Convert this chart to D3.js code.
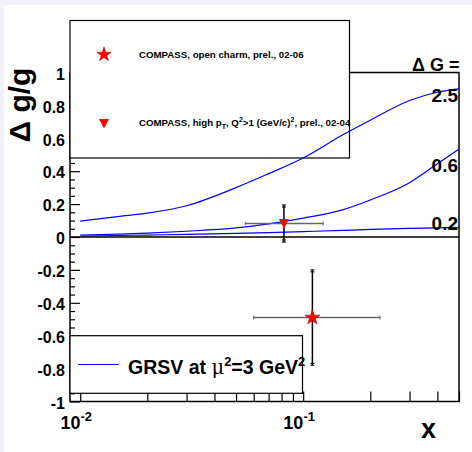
<!DOCTYPE html>
<html>
<head>
<meta charset="utf-8">
<script src="https://cdn.jsdelivr.net/npm/d3@7"></script>
<style>
  html, body { margin: 0; padding: 0; background: #f2f0f9; }
  svg { display: block; }
  text { font-family: "Liberation Sans", Arial, Helvetica, sans-serif; font-weight: bold; }
</style>
</head>
<body>
<div id="chart"></div>
<script>
// GRSV curves, x values and delta g / g for each Delta G
const curveX = [0.01, 0.015, 0.02, 0.03, 0.05, 0.07, 0.1, 0.15, 0.2, 0.3, 0.4, 0.5];
const grsv25 = [0.097, 0.125, 0.145, 0.19, 0.30, 0.385, 0.48, 0.62, 0.71, 0.83, 0.88, 0.90];
const grsv06 = [0.012, 0.018, 0.024, 0.035, 0.055, 0.08, 0.115, 0.165, 0.225, 0.33, 0.445, 0.535];
const grsv02 = [0.006, 0.009, 0.012, 0.016, 0.022, 0.027, 0.033, 0.040, 0.046, 0.052, 0.056, 0.058];
const curveLabels = ["2.5", "0.6", "0.2"];

// COMPASS points: x, x range, value, stat error, total error
const charm = { x: 0.11, xLo: 0.060, xHi: 0.221, y: -0.49, stat: 0.278, tot: 0.29 };
const highPt = { x: 0.082, xLo: 0.055, xHi: 0.123, y: 0.082, stat: 0.10, tot: 0.113 };

const yTicks = [-1, -0.8, -0.6, -0.4, -0.2, 0, 0.2, 0.4, 0.6, 0.8, 1];
const xTicks = [0.01, 0.02, 0.03, 0.04, 0.05, 0.06, 0.07, 0.08, 0.09, 0.1, 0.2, 0.3, 0.4, 0.5];
const xLabels = [{ v: 0.01, exp: "-2" }, { v: 0.1, exp: "-1" }];

const width = 472;
const height = 452;
const margin = { top: 72.5, bottom: 50.5, left: 70, right: 13 };

const svg = d3.select("#chart").append("svg").attr("width", width).attr("height", height);

svg.append("rect").attr("x", 4).attr("y", 5).attr("width", width - 4).attr("height", height - 5).attr("fill", "#ffffff");

const xScale = d3.scaleLog().domain([0.009, 0.5]).range([margin.left, width - margin.right]);
const yScale = d3.scaleLinear().domain([-1, 1]).range([height - margin.bottom, margin.top]);

// Axes

const minorY = d3.range(-1, 1.001, 0.05).map((d) => +d.toFixed(2)).filter((d) => !yTicks.includes(d));

svg.append("g")
  .attr("transform", `translate(${margin.left},0)`)
  .call(d3.axisRight(yScale).tickValues(yTicks).tickSize(10).tickFormat(""))
  .call((g) => g.select(".domain").remove());

svg.append("g")
  .attr("transform", `translate(${margin.left},0)`)
  .call(d3.axisRight(yScale).tickValues(minorY).tickSize(5).tickFormat(""))
  .call((g) => g.select(".domain").remove());

svg.append("g")
  .attr("transform", `translate(${margin.left - 2},0)`)
  .call(d3.axisLeft(yScale).tickValues(yTicks).tickSize(0).tickFormat((d) => String(+d.toFixed(1))))
  .call((g) => g.select(".domain").remove())
  .call((g) => g.selectAll("text").attr("font-size", 16).attr("font-weight", "bold").attr("fill", "#000").attr("dy", "0.42em")
    .style("font-family", '"Liberation Sans", Arial, sans-serif'));

svg.append("g")
  .attr("transform", `translate(0,${height - margin.bottom})`)
  .call(d3.axisTop(xScale).tickValues(xTicks).tickSize(10).tickFormat(""))
  .call((g) => g.select(".domain").remove());

svg.selectAll("g.tick line").attr("stroke", "#000").attr("stroke-width", 1.2);

const xl = svg.selectAll(".xlab").data(xLabels).enter().append("text")
  .attr("class", "xlab")
  .attr("x", (d) => xScale(d.v) - 4)
  .attr("y", 429)
  .attr("text-anchor", "middle")
  .attr("font-size", 18);
xl.append("tspan").text("10");
xl.append("tspan").attr("dy", -8).attr("font-size", 13).text((d) => d.exp);

// frame
svg.append("rect")
  .attr("x", margin.left).attr("y", margin.top)
  .attr("width", width - margin.left - margin.right)
  .attr("height", height - margin.top - margin.bottom)
  .attr("fill", "none").attr("stroke", "#000").attr("stroke-width", 1.5);

// Legends

const leg1 = svg.append("g");
leg1.append("rect").attr("x", 70).attr("y", 20.5).attr("width", 279.5).attr("height", 137.5)
  .attr("fill", "#fff").attr("stroke", "#000").attr("stroke-width", 1.2);
leg1.append("path").attr("transform", "translate(104,54.5)")
  .attr("d", d3.symbol(d3.symbolStar, 66)()).attr("fill", "#ff0000").attr("stroke", "#b00000").attr("stroke-width", 0.5);
leg1.append("path").attr("transform", "translate(104,123.5)")
  .attr("d", "M-5,-4.5L5,-4.5L0,5Z").attr("fill", "#ff0000");
leg1.append("text").attr("x", 139).attr("y", 58).attr("font-size", 9.7).text("COMPASS, open charm, prel., 02-06");
const t2 = leg1.append("text").attr("x", 139).attr("y", 125.5).attr("font-size", 9.7);
t2.append("tspan").text("COMPASS, high p");
t2.append("tspan").attr("dy", 3).attr("font-size", 7).text("T");
t2.append("tspan").attr("dy", -3).text(", Q");
t2.append("tspan").attr("dy", -4).attr("font-size", 7).text("2");
t2.append("tspan").attr("dy", 4).text(">1 (GeV/c)");
t2.append("tspan").attr("dy", -4).attr("font-size", 7).text("2");
t2.append("tspan").attr("dy", 4).text(", prel., 02-04");

const leg2 = svg.append("g");
leg2.append("rect").attr("x", 70).attr("y", 335.7).attr("width", 232.5).attr("height", 57.6)
  .attr("fill", "#fff").attr("stroke", "#000").attr("stroke-width", 1.2);
leg2.append("line").attr("x1", 78).attr("x2", 119).attr("y1", 364.5).attr("y2", 364.5)
  .attr("stroke", "#0000ff").attr("stroke-width", 1.2);
const t3 = leg2.append("text").attr("x", 128).attr("y", 374).attr("font-size", 19.5);
t3.append("tspan").text("GRSV at ");
t3.append("tspan").attr("font-weight", "normal").style("font-family", '"DejaVu Serif", serif').text("μ");
t3.append("tspan").attr("dy", -8).attr("font-size", 13).text("2");
t3.append("tspan").attr("dy", 8).text("=3 GeV");
t3.append("tspan").attr("dy", -8).attr("font-size", 13).text("2");

// Curves

const line = d3.line()
  .x((d) => xScale(d[0]))
  .y((d) => yScale(d[1]))
  .curve(d3.curveMonotoneX);

[grsv25, grsv06, grsv02].forEach((vals) => {
  svg.append("path")
    .datum(curveX.map((x, i) => [x, vals[i]]))
    .attr("fill", "none")
    .attr("stroke", "#0000ff")
    .attr("stroke-width", 1.2)
    .attr("d", line);
});

svg.append("line")
  .attr("x1", margin.left).attr("x2", width - margin.right)
  .attr("y1", yScale(0)).attr("y2", yScale(0))
  .attr("stroke", "#000").attr("stroke-width", 1.5);

// Data points with error bars

function drawPoint(p, symbol) {
  const g = svg.append("g");
  const cy = yScale(p.y);
  g.append("line").attr("x1", xScale(p.xLo)).attr("x2", xScale(p.xHi)).attr("y1", cy).attr("y2", cy)
    .attr("stroke", "#666").attr("stroke-width", 1.5);
  [p.xLo, p.xHi].forEach((v) => {
    g.append("line").attr("x1", xScale(v)).attr("x2", xScale(v)).attr("y1", cy - 2).attr("y2", cy + 2)
      .attr("stroke", "#666").attr("stroke-width", 1);
  });
  const cx = xScale(p.x);
  g.append("line").attr("x1", cx).attr("x2", cx).attr("y1", yScale(p.y + p.tot)).attr("y2", yScale(p.y - p.tot))
    .attr("stroke", "#000").attr("stroke-width", 1.5);
  [p.y + p.tot, p.y - p.tot, p.y + p.stat, p.y - p.stat].forEach((v) => {
    g.append("line").attr("x1", cx - 2).attr("x2", cx + 2).attr("y1", yScale(v)).attr("y2", yScale(v))
      .attr("stroke", "#000").attr("stroke-width", 1);
  });
  if (symbol === "star") {
    g.append("path").attr("transform", `translate(${cx},${cy})`)
      .attr("d", d3.symbol(d3.symbolStar, 72)()).attr("fill", "#ff0000").attr("stroke", "#b00000").attr("stroke-width", 0.5);
  } else {
    g.append("path").attr("transform", `translate(${cx},${cy})`)
      .attr("d", "M-5,-4.5L5,-4.5L0,5Z").attr("fill", "#ff0000");
  }
}

drawPoint(highPt, "triangle");
drawPoint(charm, "star");

// Labels

svg.append("text").attr("x", 412).attr("y", 71).attr("font-size", 18).text("Δ G =");

svg.selectAll(".clab").data(curveLabels).enter().append("text")
  .attr("class", "clab")
  .attr("x", 458)
  .attr("y", (d, i) => [101.7, 171.7, 229.5][i])
  .attr("text-anchor", "end")
  .attr("font-size", 19)
  .text((d) => d);

svg.append("text")
  .attr("transform", "translate(30,105) rotate(-90)")
  .attr("text-anchor", "middle")
  .attr("font-size", 30)
  .text("Δ g/g");

svg.append("text").attr("x", 421).attr("y", 437.5).attr("font-size", 27).text("x");
</script>
</body>
</html>
